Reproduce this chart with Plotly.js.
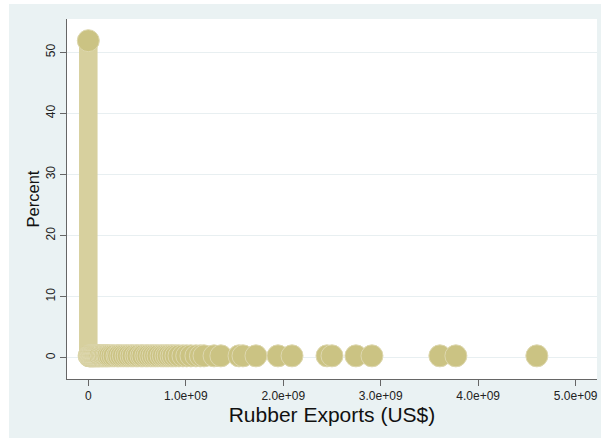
<!DOCTYPE html>
<html>
<head>
<meta charset="utf-8">
<script src="https://cdn.plot.ly/plotly-3.0.1.min.js"></script>
<style>
  html, body { margin: 0; padding: 0; background: #ffffff; }
  #chart { position: absolute; left: 9px; top: 4px; width: 592px; height: 434px; }
</style>
</head>
<body>
<div id="chart"></div>
<script>
// Rubber exports (US$) and the percent of observations at each value
var exportsUSD = [
  0, 0.008e9, 0.015e9, 0.022e9, 0.03e9, 0.038e9, 0.045e9, 0.052e9, 0.06e9, 0.07e9,
  0.079e9, 0.09e9, 0.1e9, 0.11e9, 0.12e9, 0.135e9, 0.148e9, 0.161e9, 0.175e9, 0.19e9,
  0.202e9, 0.22e9, 0.243e9, 0.265e9, 0.294e9, 0.31e9, 0.335e9, 0.36e9, 0.387e9,
  0.41e9, 0.438e9, 0.46e9, 0.489e9, 0.51e9, 0.54e9, 0.56e9, 0.59e9, 0.612e9, 0.64e9,
  0.664e9, 0.69e9, 0.715e9, 0.746e9, 0.77e9, 0.797e9, 0.82e9, 0.848e9, 0.87e9,
  0.899e9, 0.93e9, 0.971e9, 1.01e9, 1.053e9, 1.104e9, 1.15e9, 1.187e9, 1.29e9,
  1.36e9, 1.546e9, 1.587e9, 1.72e9, 1.946e9, 2.09e9, 2.449e9, 2.5e9, 2.746e9,
  2.91e9, 3.607e9, 3.771e9, 4.602e9
];
var percent = [
  51.9, 0.3, 0.3, 0.3, 0.3, 0.3, 0.3, 0.3, 0.3, 0.3,
  0.3, 0.3, 0.3, 0.3, 0.3, 0.3, 0.3, 0.3, 0.3, 0.3,
  0.3, 0.3, 0.3, 0.3, 0.3, 0.3, 0.3, 0.3, 0.3,
  0.3, 0.3, 0.3, 0.3, 0.3, 0.3, 0.3, 0.3, 0.3, 0.3,
  0.3, 0.3, 0.3, 0.3, 0.3, 0.3, 0.3, 0.3, 0.3,
  0.3, 0.3, 0.3, 0.3, 0.3, 0.3, 0.3, 0.3, 0.3,
  0.3, 0.3, 0.3, 0.3, 0.3, 0.3, 0.3, 0.3, 0.3,
  0.3, 0.3, 0.3, 0.3
];
var xTickVals = [0, 1e9, 2e9, 3e9, 4e9, 5e9];
var xTickText = ['0', '1.0e+09', '2.0e+09', '3.0e+09', '4.0e+09', '5.0e+09'];
var yTickVals = [0, 10, 20, 30, 40, 50];

var FONT = 'Liberation Sans, Arial, sans-serif';

// spikes from zero up to each percent
var spikes = {
  type: 'bar',
  x: exportsUSD,
  y: percent,
  width: 0.19e9,
  marker: { color: '#d7d09e', line: { width: 0 } },
  hoverinfo: 'skip'
};

// markers at the top of each spike
var dots = {
  type: 'scatter',
  mode: 'markers',
  x: exportsUSD,
  y: percent,
  marker: { size: 22, color: '#cbc383', line: { color: '#ddd7ae', width: 1 } }
};

var layout = {
  width: 592,
  height: 434,
  margin: { l: 58, r: 4, t: 15, b: 59 },
  paper_bgcolor: '#eaf2f3',
  plot_bgcolor: '#ffffff',
  showlegend: false,
  font: { family: FONT, size: 12, color: '#222222' },
  xaxis: {
    range: [-0.2185e9, 5.219e9],
    tickvals: xTickVals,
    ticktext: xTickText,
    ticks: 'outside',
    ticklen: 6,
    tickcolor: '#666666',
    showline: true,
    linecolor: '#666666',
    linewidth: 1,
    showgrid: false,
    zeroline: false,
    tickfont: { family: FONT, size: 12, color: '#222222' },
    title: { text: 'Rubber Exports (US$)', font: { family: FONT, size: 21, color: '#111111' }, standoff: 1 }
  },
  yaxis: {
    range: [-3.49, 55.45],
    tickvals: yTickVals,
    tickangle: -90,
    ticks: 'outside',
    ticklen: 6,
    tickcolor: '#666666',
    showline: true,
    linecolor: '#666666',
    linewidth: 1,
    showgrid: true,
    gridcolor: '#e8eff1',
    gridwidth: 1,
    zeroline: false,
    tickfont: { family: FONT, size: 12, color: '#222222' },
    title: { text: 'Percent', font: { family: FONT, size: 16.5, color: '#111111' }, standoff: 0 }
  }
};

Plotly.newPlot('chart', [spikes, dots], layout, { staticPlot: true, displayModeBar: false });
</script>
</body>
</html>
